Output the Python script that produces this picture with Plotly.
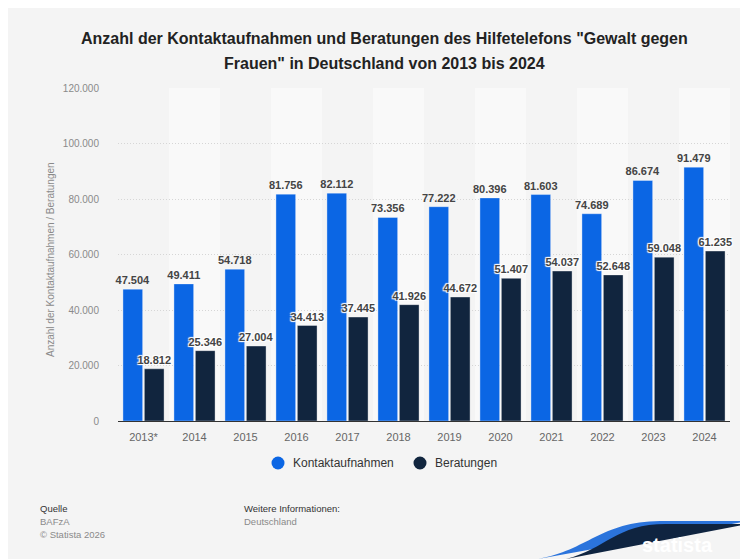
import plotly.graph_objects as go

# Daten
jahre = ["2013*", "2014", "2015", "2016", "2017", "2018",
         "2019", "2020", "2021", "2022", "2023", "2024"]
kontaktaufnahmen = [47504, 49411, 54718, 81756, 82112, 73356,
                    77222, 80396, 81603, 74689, 86674, 91479]
beratungen = [18812, 25346, 27004, 34413, 37445, 41926,
              44672, 51407, 54037, 52648, 59048, 61235]
serien = ["Kontaktaufnahmen", "Beratungen"]

BLAU = "#0b66e4"
DUNKEL = "#11253e"
FONT = "Liberation Sans, Arial, sans-serif"

# Figur sitzt mit 8px Body-Rand auf der Seite
W, H = 740, 551
L, R, T, B = 110, 18, 80, 138
PX0, PX1, PY0, PY1 = 118, 730, 88, 421  # Plotflaeche in Seitenpixeln


def px(x, y):
    # Seitenpixel -> paper-Koordinaten
    return (x - PX0) / (PX1 - PX0), (PY1 - y) / (PY1 - PY0)


def path(points, close=True):
    s = ""
    for cmd, pts in points:
        s += cmd + " " + " ".join("%.5f,%.5f" % px(x, y) for x, y in pts) + " "
    return s + ("Z" if close else "")


halo = "1px 1px 1px #fff, -1px -1px 1px #fff, 1px -1px 1px #fff, -1px 1px 1px #fff"
labelfont = dict(size=11, color="#444", family=FONT, weight="bold")

trace_k = go.Bar(x=jahre, y=kontaktaufnahmen, name=serien[0],
                 marker=dict(color=BLAU, line=dict(color="rgba(255,255,255,0.35)", width=1)),
                 texttemplate="%{y:,.0f}", textposition="outside", constraintext="none",
                 textfont=labelfont, cliponaxis=False, showlegend=False)
trace_b = go.Bar(x=jahre, y=beratungen, name=serien[1],
                 marker=dict(color=DUNKEL, line=dict(color="rgba(255,255,255,0.35)", width=1)),
                 texttemplate="%{y:,.0f}", textposition="outside", constraintext="none",
                 textfont=dict(labelfont, shadow=halo), cliponaxis=False, showlegend=False)

fig = go.Figure(data=[trace_k, trace_b])

shapes = []
for i in range(1, len(jahre), 2):
    shapes.append(dict(type="rect", xref="x", yref="paper", x0=i - 0.5, x1=i + 0.5, y0=0, y1=1,
                       fillcolor="#f9f9f9", line=dict(width=0), layer="below"))

annotations = []


def note(text, x, y, size, color, anchor="left", bold=False, angle=0, family=FONT):
    ax, ay = px(x, y)
    annotations.append(dict(text=text, x=ax, y=ay, xref="paper", yref="paper",
                            xanchor=anchor, yanchor="middle", showarrow=False, textangle=angle,
                            font=dict(size=size, color=color, family=family,
                                      weight="bold" if bold else "normal")))


# Legende mit runden Symbolen
for name, farbe, cx in zip(serien, [BLAU, DUNKEL], [278, 420]):
    ax0, ay0 = px(cx - 6.5, 463 - 6.5)
    ax1, ay1 = px(cx + 6.5, 463 + 6.5)
    shapes.append(dict(type="circle", xref="paper", yref="paper", x0=ax0, x1=ax1, y0=ay1, y1=ay0,
                       fillcolor=farbe, line=dict(width=0)))
    note(name, cx + 13, 463, 12, "#333")

# statista Logo
shapes.append(dict(type="path", xref="paper", yref="paper", layer="above",
                   path=path([("M", [(538, 559)]), ("C", [(588, 550), (600, 522), (660, 521)]),
                              ("L", [(748, 521), (748, 559)])]),
                   fillcolor="#2b74dc", line=dict(width=0)))
shapes.append(dict(type="path", xref="paper", yref="paper", layer="above",
                   path=path([("M", [(566, 559)]), ("C", [(606, 549), (616, 524), (666, 524)]),
                              ("L", [(748, 524), (748, 559)])]),
                   fillcolor="#0f2440", line=dict(width=0)))
shapes.append(dict(type="path", xref="paper", yref="paper", layer="above",
                   path=path([("M", [(717, 538)]), ("L", [(736, 538), (736, 552), (717, 552)])]),
                   fillcolor="#ffffff", line=dict(width=0)))
shapes.append(dict(type="path", xref="paper", yref="paper", layer="above",
                   path=path([("M", [(717, 552)]), ("L", [(721, 552), (736, 541), (736, 538), (732, 538), (717, 549)])]),
                   fillcolor="#0f2440", line=dict(width=0)))

note("Anzahl der Kontaktaufnahmen und Beratungen des Hilfetelefons \"Gewalt gegen",
     384, 38, 16, "#222", anchor="center", bold=True)
note("Frauen\" in Deutschland von 2013 bis 2024", 384, 63, 16, "#222", anchor="center", bold=True)
note("Anzahl der Kontaktaufnahmen / Beratungen", 50, 260, 10, "#8a8a8a", anchor="center", angle=-90)
note("Quelle", 38, 508, 9.5, "#333")
note("BAFzA", 38, 521, 9.5, "#8a8a8a")
note("© Statista 2026", 38, 534, 9.5, "#8a8a8a")
note("Weitere Informationen:", 242, 508, 9.5, "#333")
note("Deutschland", 242, 521, 9.5, "#8a8a8a")
note("statista", 677, 545, 20, "#ffffff", anchor="center", bold=True,
     family="Liberation Sans Narrow, Liberation Sans, sans-serif")

fig.update_layout(
    width=W, height=H,
    margin=dict(l=L, r=R, t=T, b=B, autoexpand=False),
    paper_bgcolor="#f4f4f4",
    plot_bgcolor="rgba(0,0,0,0)",
    separators=",.",
    barmode="group",
    bargap=0.16,
    bargroupgap=0.08,
    font=dict(family=FONT, color="#666"),
    shapes=shapes,
    annotations=annotations,
    showlegend=False,
    xaxis=dict(type="category", showline=True, linecolor="#333", linewidth=1,
               showgrid=False, tickfont=dict(size=11, color="#666"), ticks="",
               ticklabelstandoff=6, automargin=False, fixedrange=True),
    yaxis=dict(range=[0, 120000], tickvals=list(range(0, 120001, 20000)),
               tickformat=",.0f", showgrid=True, gridcolor="#d6d6d6", griddash="1px,2px",
               gridwidth=1, zeroline=False, showline=False,
               tickfont=dict(size=10, color="#8a8a8a"), ticklabelstandoff=18,
               automargin=False, fixedrange=True),
)

fig.write_html("out.html")
